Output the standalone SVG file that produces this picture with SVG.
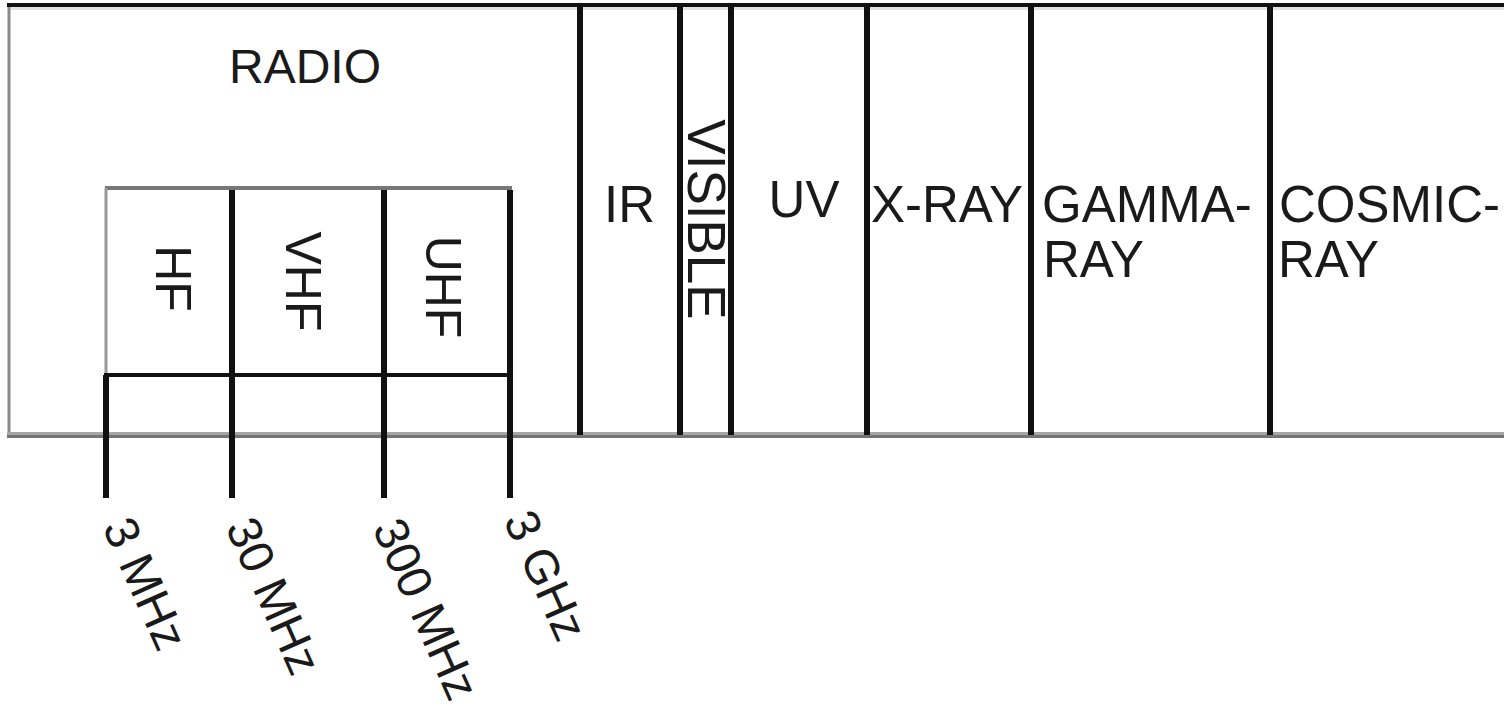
<svg xmlns="http://www.w3.org/2000/svg" width="1504" height="711" viewBox="0 0 1504 711">
<style>
.t{font-family:"Liberation Sans",Arial,sans-serif;fill:#1a1a1a}
.ln{stroke:#111;stroke-width:6;fill:none}
</style>
<rect width="1504" height="711" fill="#fff"/>
<g id="frame">
<line x1="9" y1="3" x2="9" y2="437" stroke="#8a8a8a" stroke-width="3"/>
<line x1="7" y1="5" x2="1504" y2="5" stroke="#111" stroke-width="4"/>
<line x1="11" y1="8.5" x2="1504" y2="8.5" stroke="#e2e2e2" stroke-width="3"/>
<line x1="7" y1="433.5" x2="1504" y2="433.5" stroke="#a6a6a6" stroke-width="3"/>
<line x1="7" y1="436.5" x2="1504" y2="436.5" stroke="#747474" stroke-width="3"/>
</g>
<g id="connectors">
<line class="ln" x1="580" y1="5" x2="580" y2="435"/>
<line class="ln" x1="680" y1="5" x2="680" y2="435"/>
<line class="ln" x1="731" y1="5" x2="731" y2="435"/>
<line class="ln" x1="867" y1="5" x2="867" y2="435"/>
<line class="ln" x1="1031" y1="5" x2="1031" y2="435"/>
<line class="ln" x1="1270" y1="5" x2="1270" y2="435" stroke-width="9"/>
</g>
<g id="radio">
<text class="t" x="305" y="83" font-size="48" text-anchor="middle">RADIO</text>
<line x1="105" y1="188" x2="512" y2="188" stroke="#777" stroke-width="4"/>
<line x1="106" y1="188" x2="106" y2="375" stroke="#999" stroke-width="3"/>
<line x1="104" y1="375" x2="512" y2="375" stroke="#111" stroke-width="4"/>
<line class="ln" x1="106" y1="375" x2="106" y2="498"/>
<line class="ln" x1="232" y1="190" x2="232" y2="498"/>
<line class="ln" x1="384" y1="190" x2="384" y2="498"/>
<line class="ln" x1="510" y1="190" x2="510" y2="498"/>
</g>
<g id="hf"><text class="t" font-size="50" text-anchor="middle" transform="translate(156,278.5) rotate(90)">HF</text></g>
<g id="vhf"><text class="t" font-size="50" text-anchor="middle" transform="translate(286,281.5) rotate(90)">VHF</text></g>
<g id="uhf"><text class="t" font-size="50" text-anchor="middle" transform="translate(426,287) rotate(90)">UHF</text></g>
<g id="ir"><text class="t" x="629.5" y="222" font-size="51" text-anchor="middle">IR</text></g>
<g id="visible"><text class="t" font-size="53" text-anchor="middle" transform="translate(688,219.5) rotate(90)">VISIBLE</text></g>
<g id="uv"><text class="t" x="804" y="217" font-size="51" text-anchor="middle">UV</text></g>
<g id="xray"><text class="t" x="871" y="222" font-size="51">X-RAY</text></g>
<g id="gamma"><text class="t" x="1042" y="222" font-size="51">GAMMA-</text><text class="t" x="1043" y="277" font-size="51">RAY</text></g>
<g id="cosmic"><text class="t" x="1279" y="222" font-size="51">COSMIC-</text><text class="t" x="1278" y="277" font-size="51">RAY</text></g>
<g id="freq">
<text class="t" font-size="48" transform="translate(102,527) rotate(66)">3 MHz</text>
<text class="t" font-size="48" transform="translate(225,527) rotate(66)">30 MHz</text>
<text class="t" font-size="48" transform="translate(372,528) rotate(66)">300 MHz</text>
<text class="t" font-size="48" transform="translate(503,520) rotate(66)">3 GHz</text>
</g>
</svg>
